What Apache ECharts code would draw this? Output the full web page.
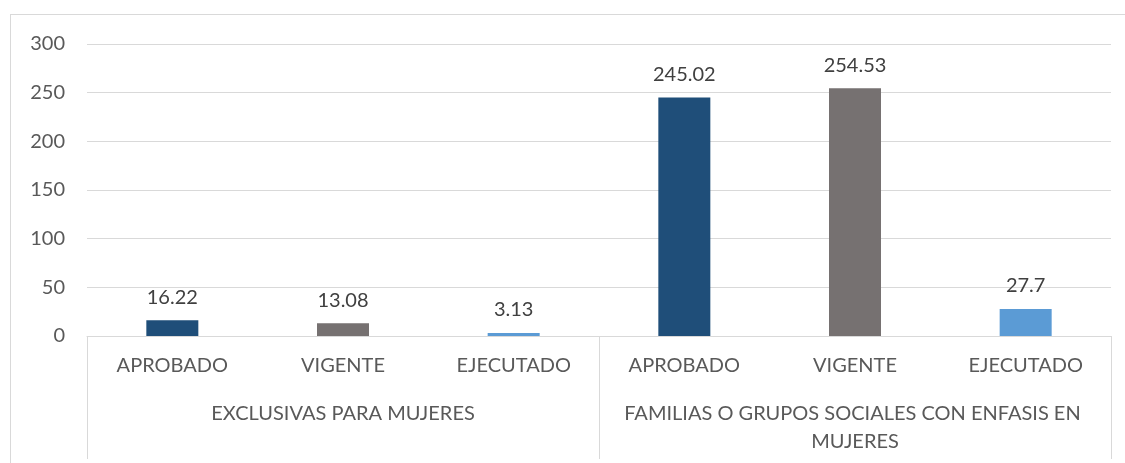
<!DOCTYPE html>
<html>
<head>
<meta charset="utf-8">
<script src="https://cdn.jsdelivr.net/npm/echarts@6/dist/echarts.min.js"></script>
<style>
	html, body { margin: 0; padding: 0; background: #fff; overflow: hidden; }
	#frame { position: absolute; left: 10px; top: 14px; width: 1140px; height: 470px; border: 1px solid #d9d9d9; box-sizing: border-box; }
	#chart { position: absolute; left: 0; top: 0; width: 1125px; height: 463px; }
</style>
</head>
<body>
<div id="frame"></div>
<div id="chart"></div>
<script>
	// datos del grafico
	var categorias = ['APROBADO', 'VIGENTE', 'EJECUTADO', 'APROBADO', 'VIGENTE', 'EJECUTADO'];
	var grupos = ['EXCLUSIVAS PARA MUJERES', 'FAMILIAS O GRUPOS SOCIALES CON ENFASIS EN MUJERES'];
	var valores = [16.22, 13.08, 3.13, 245.02, 254.53, 27.7];
	var ticksY = [0, 50, 100, 150, 200, 250, 300];

	var colores = ['#1F4E79', '#767171', '#5B9BD5'];
	var fuente = 'Lato, "Open Sans", sans-serif';

	var chart = echarts.init(document.getElementById('chart'));

	var option = {
		animation: false,
		grid: {
			left: 87,
			right: 14,
			top: 44,
			bottom: 127
		},
		xAxis: [{
			type: 'category',
			data: categorias,
			axisLine: {
				lineStyle: { color: '#d9d9d9', width: 1 }
			},
			axisTick: { show: false },
			axisLabel: {
				interval: 0,
				color: '#595959',
				fontFamily: fuente,
				fontSize: 20,
				margin: 20
			}
		}, {
			type: 'category',
			data: grupos,
			position: 'bottom',
			axisLine: { show: false },
			axisTick: {
				show: true,
				interval: 0,
				length: 123,
				lineStyle: { color: '#d9d9d9' }
			},
			axisLabel: {
				interval: 0,
				color: '#595959',
				fontFamily: fuente,
				fontSize: 20,
				margin: 64,
				lineHeight: 28,
				width: 490,
				overflow: 'break'
			}
		}],
		yAxis: {
			type: 'value',
			min: ticksY[0],
			max: ticksY[ticksY.length - 1],
			interval: 50,
			axisLine: { show: false },
			axisTick: { show: false },
			splitLine: {
				lineStyle: { color: '#d9d9d9' }
			},
			axisLabel: {
				color: '#595959',
				fontFamily: fuente,
				fontSize: 20,
				margin: 22
			}
		},
		series: [{
			type: 'bar',
			xAxisIndex: 0,
			barWidth: 52,
			data: valores,
			itemStyle: {
				color: function(p) {
					return colores[p.dataIndex % 3];
				}
			},
			label: {
				show: true,
				position: 'top',
				distance: 13,
				color: '#404040',
				fontFamily: fuente,
				fontSize: 20
			}
		}]
	};

	chart.setOption(option);
</script>
</body>
</html>
